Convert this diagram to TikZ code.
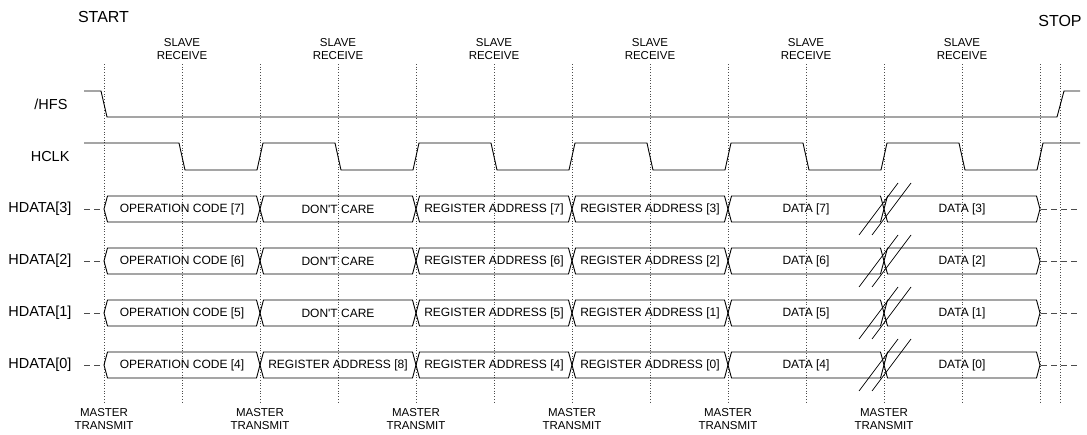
\documentclass[tikz,border=0pt]{standalone}
\usepackage{fontspec}
\setmainfont{Liberation Sans}

\tikzset{
  wave/.style={line width=0.9pt},
  guide/.style={dotted, line width=0.7pt, gray!60!black},
  sig/.style={anchor=east, font=\fontsize{14.5}{16}\selectfont},
  bustext/.style={font=\fontsize{12}{13}\selectfont},
  evt/.style={align=center, font=\fontsize{11.5}{13}\selectfont},
  endtext/.style={font=\fontsize{16}{18}\selectfont},
  lead/.style={dash pattern=on 6pt off 4pt, line width=0.9pt, gray!60!black}
}

\begin{document}
\begin{tikzpicture}[x=1pt, y=-1pt]
\useasboundingbox (0,0) rectangle (1087,434);

% guide lines
\foreach \gx in {104,182,...,1040,1060}
  \draw[guide] (\gx,64) -- (\gx,403);

% events
\node[endtext] (start) at (103.5,17) {START};
\node[endtext] (stop) at (1060,21) {STOP};
\foreach \k in {0,...,5} {
  \node[evt] (sr\k) at ({182+156*\k},49.5) {SLAVE\\RECEIVE};
  \node[evt] (mt\k) at ({104+156*\k},419.5) {MASTER\\TRANSMIT};
}

% /HFS and HCLK
\node[sig] (hfs) at (71,104) {/HFS};
\node[sig] (hclk) at (73,156.5) {HCLK};
\draw[wave] (84,91) -- (101,91) -- (107,117) -- (1057,117) -- (1064,91) -- (1080,91);
\draw[wave] (84,143) \foreach \m in {104,260,...,884} {
    -- ({\m+75},143) -- ({\m+81},170) -- ({\m+153},170) -- ({\m+159},143)
  } -- (1080,143);

% data lines
\foreach \row/\y/\sa/\sb/\sc/\sd/\se/\sf in {
  3/209/{OPERATION CODE [7]}/{DON\textquotesingle T CARE}/{REGISTER ADDRESS [7]}/{REGISTER ADDRESS [3]}/{DATA [7]}/{DATA [3]},
  2/261/{OPERATION CODE [6]}/{DON\textquotesingle T CARE}/{REGISTER ADDRESS [6]}/{REGISTER ADDRESS [2]}/{DATA [6]}/{DATA [2]},
  1/313/{OPERATION CODE [5]}/{DON\textquotesingle T CARE}/{REGISTER ADDRESS [5]}/{REGISTER ADDRESS [1]}/{DATA [5]}/{DATA [1]},
  0/365/{OPERATION CODE [4]}/{REGISTER ADDRESS [8]}/{REGISTER ADDRESS [4]}/{REGISTER ADDRESS [0]}/{DATA [4]}/{DATA [0]}} {
  \node[sig] (hd\row) at (75,\y) {HDATA[\row]};
  \draw[lead] (84,\y) -- (103,\y);
  \draw[lead] (1041,\y) -- (1080,\y);
  \foreach \k in {0,...,5} {
    \pgfmathsetmacro\xa{104+156*\k}
    \pgfmathsetmacro\xb{260+156*\k}
    \draw[wave] (\xa,\y) -- ({\xa+3.5},{\y-13}) -- ({\xb-3.5},{\y-13}) -- (\xb,\y)
      -- ({\xb-3.5},{\y+13}) -- ({\xa+3.5},{\y+13}) -- cycle;
  }
  \node[bustext] (d\row a) at (182,\y) {\sa};
  \node[bustext] (d\row b) at (338,\y) {\sb};
  \node[bustext] (d\row c) at (494,\y) {\sc};
  \node[bustext] (d\row d) at (650,\y) {\sd};
  \node[bustext] (d\row e) at (806,\y) {\se};
  \node[bustext] (d\row f) at (962,\y) {\sf};
  % break mark
  \draw[line width=0.7pt] (859,{\y+26}) -- (898,{\y-26}) (872,{\y+26}) -- (911,{\y-26});
}
\end{tikzpicture}
\end{document}
